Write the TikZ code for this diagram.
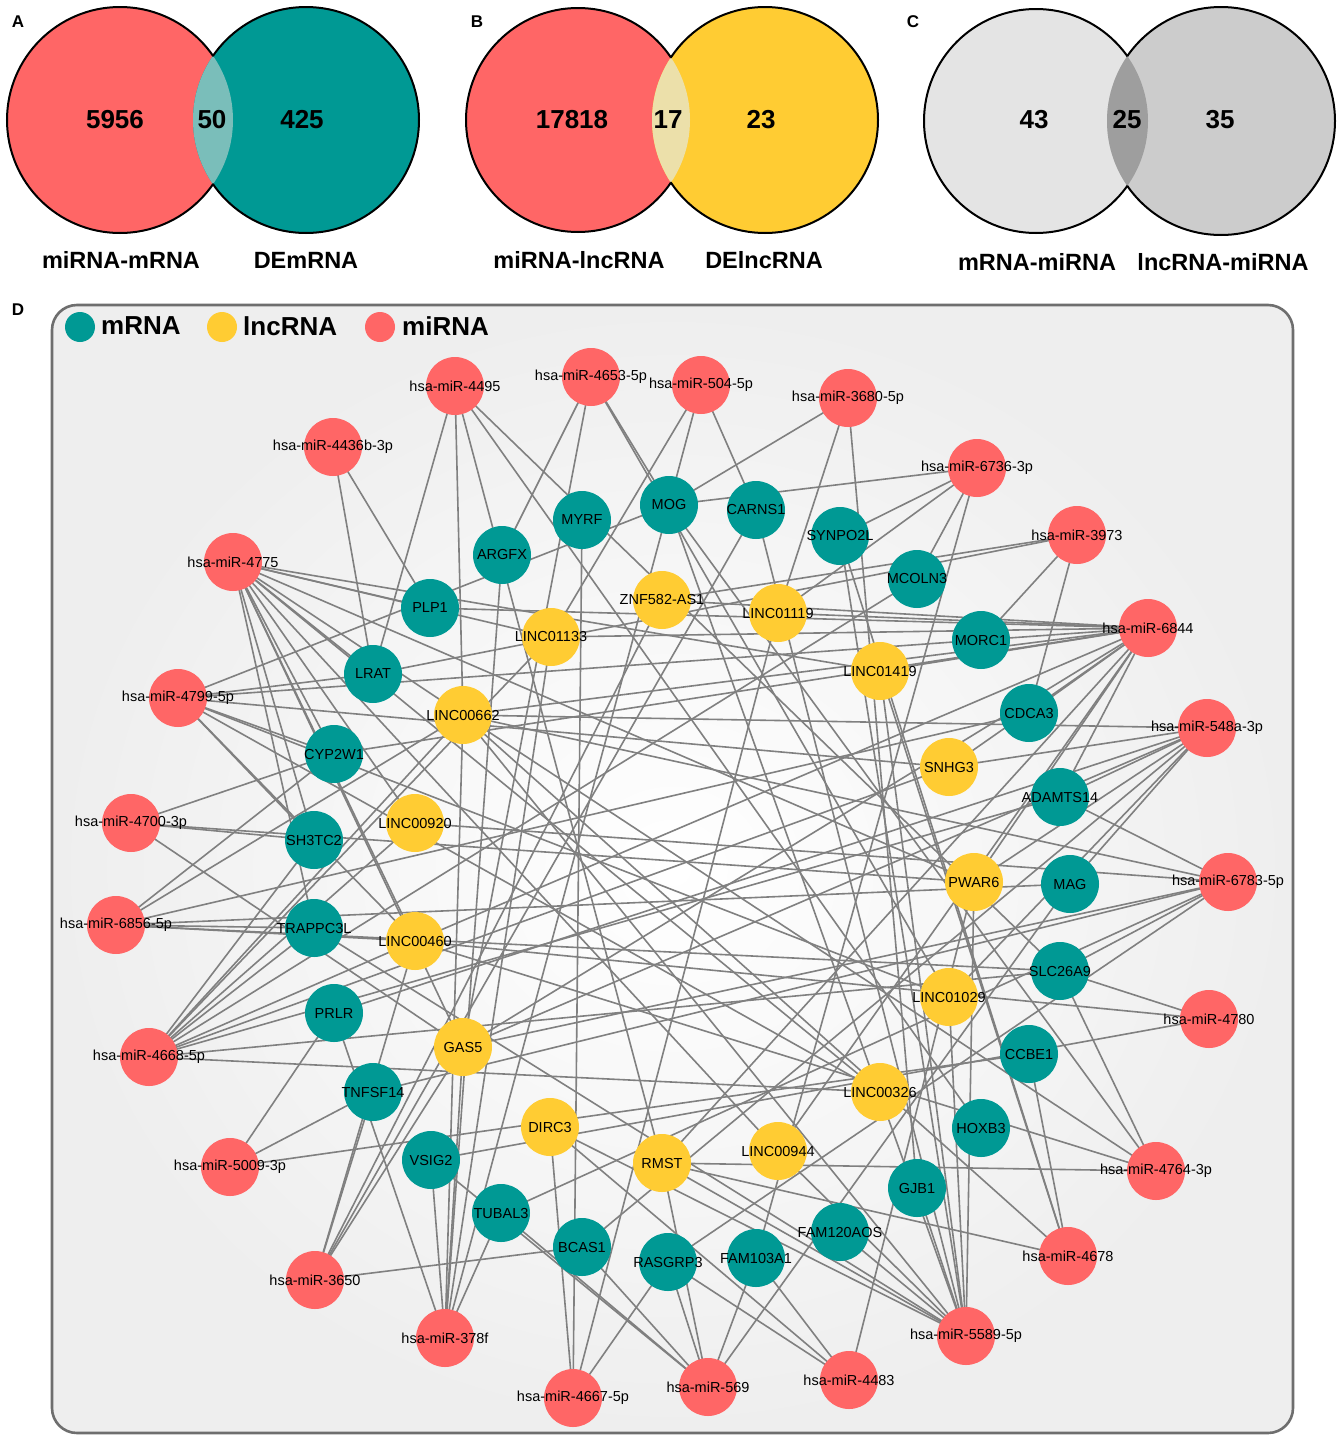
\documentclass[tikz,border=0pt]{standalone}
\usepackage{fontspec}
\setmainfont{Liberation Sans}
\definecolor{mired}{RGB}{255,102,102}
\definecolor{mrteal}{RGB}{0,153,148}
\definecolor{lncyel}{RGB}{255,204,51}
\definecolor{edgegray}{RGB}{128,128,128}
\definecolor{lensA}{RGB}{122,190,186}
\definecolor{lensB}{RGB}{236,224,170}
\definecolor{grayL}{RGB}{228,228,228}
\definecolor{grayR}{RGB}{204,204,204}
\definecolor{lensC}{RGB}{158,158,158}
\definecolor{framegray}{RGB}{110,110,110}
\definecolor{bgedge}{RGB}{238,238,238}
\newcommand\lblfont{\fontsize{14.5}{16}\selectfont}
\newcommand\numfont{\fontsize{26}{30}\selectfont\bfseries}
\newcommand\setlblfont{\fontsize{23.5}{28}\selectfont\bfseries}
\newcommand\panelfont{\fontsize{17}{20}\selectfont\bfseries}
\newcommand\legfont{\fontsize{26}{30}\selectfont\bfseries}
\newcommand\rna[4]{\node[#1] (#2) at (#3) {}; \node[lbl] (#2t) at (#2) {#4};}
\pgfdeclarelayer{back}
\pgfdeclarelayer{bg}
\pgfsetlayers{back,bg,main}
\begin{document}
\begin{tikzpicture}[x=1pt,y=-1pt,
  mi/.style={circle,fill=mired,draw=none,minimum size=58pt,inner sep=0pt},
  mr/.style={circle,fill=mrteal,draw=none,minimum size=58pt,inner sep=0pt},
  lnc/.style={circle,fill=lncyel,draw=none,minimum size=58pt,inner sep=0pt},
  lbl/.style={font=\lblfont,inner sep=0pt,text=black},
  edge/.style={draw=edgegray,line width=1.6pt},
  vout/.style={draw=black,line width=2pt},
  numlbl/.style={font=\numfont,inner sep=0pt},
  setlbl/.style={font=\setlblfont,inner sep=0pt},
  panel/.style={font=\panelfont,inner sep=0pt},
  leg/.style={font=\legfont,inner sep=0pt,anchor=west}]
\useasboundingbox (0,0) rectangle (1341,1435);
\begin{pgfonlayer}{back}
\fill[white] (0,0) rectangle (1341,1435);
\shade[rounded corners=25pt,inner color=white,outer color=bgedge] (52,305) rectangle (1293,1433);
\draw[rounded corners=25pt,line width=2.6pt,draw=framegray] (52,305) rectangle (1293,1433);
\end{pgfonlayer}

% ---------- Venn A ----------
\fill[mired] (120,120) circle[radius=113pt];
\fill[mrteal] (306,120) circle[radius=113pt];
\begin{scope}\clip (120,120) circle[radius=113pt]; \fill[lensA] (306,120) circle[radius=113pt];\end{scope}
\begin{scope}[even odd rule]\clip (0,0) rectangle (1341,300) (306,120) circle[radius=113pt]; \draw[vout] (120,120) circle[radius=113pt];\end{scope}
\begin{scope}[even odd rule]\clip (0,0) rectangle (1341,300) (120,120) circle[radius=113pt]; \draw[vout] (306,120) circle[radius=113pt];\end{scope}
\node[panel] (pa) at (18,22) {A};
\node[numlbl] (na1) at (115,120) {5956};
\node[numlbl] (na2) at (212,120) {50};
\node[numlbl] (na3) at (302,120) {425};
\node[setlbl] (sa1) at (121,260) {miRNA-mRNA};
\node[setlbl] (sa2) at (306,260) {DEmRNA};

% ---------- Venn B ----------
\fill[mired] (578,120) circle[radius=112pt];
\fill[lncyel] (765,120) circle[radius=113pt];
\begin{scope}\clip (578,120) circle[radius=112pt]; \fill[lensB] (765,120) circle[radius=113pt];\end{scope}
\begin{scope}[even odd rule]\clip (0,0) rectangle (1341,300) (765,120) circle[radius=113pt]; \draw[vout] (578,120) circle[radius=112pt];\end{scope}
\begin{scope}[even odd rule]\clip (0,0) rectangle (1341,300) (578,120) circle[radius=112pt]; \draw[vout] (765,120) circle[radius=113pt];\end{scope}
\node[panel] (pb) at (477,22) {B};
\node[numlbl] (nb1) at (572,120) {17818};
\node[numlbl] (nb2) at (668,120) {17};
\node[numlbl] (nb3) at (761,120) {23};
\node[setlbl] (sb1) at (579,260) {miRNA-lncRNA};
\node[setlbl] (sb2) at (764,260) {DElncRNA};

% ---------- Venn C ----------
\fill[grayL] (1036,121) circle[radius=112pt];
\fill[grayR] (1221,121) circle[radius=114pt];
\begin{scope}\clip (1036,121) circle[radius=112pt]; \fill[lensC] (1221,121) circle[radius=114pt];\end{scope}
\begin{scope}[even odd rule]\clip (0,0) rectangle (1341,300) (1221,121) circle[radius=114pt]; \draw[vout] (1036,121) circle[radius=112pt];\end{scope}
\begin{scope}[even odd rule]\clip (0,0) rectangle (1341,300) (1036,121) circle[radius=112pt]; \draw[vout] (1221,121) circle[radius=114pt];\end{scope}
\node[panel] (pc) at (913,22) {C};
\node[numlbl] (nc1) at (1034,120) {43};
\node[numlbl] (nc2) at (1127,120) {25};
\node[numlbl] (nc3) at (1220,120) {35};
\node[setlbl] (sc1) at (1037,262) {mRNA-miRNA};
\node[setlbl] (sc2) at (1223,262) {lncRNA-miRNA};

% ---------- Panel D ----------
\node[panel] (pd) at (18,310) {D};

% legend
\node[circle,fill=mrteal,minimum size=30pt,inner sep=0pt] (lg1) at (80,327) {};
\node[leg] (lg1t) at (101,326) {mRNA};
\node[circle,fill=lncyel,minimum size=30pt,inner sep=0pt] (lg2) at (222,327) {};
\node[leg] (lg2t) at (243,326) {lncRNA};
\node[circle,fill=mired,minimum size=30pt,inner sep=0pt] (lg3) at (380,327) {};
\node[leg] (lg3t) at (402,326) {miRNA};

% ---------- miRNA nodes ----------
\rna{mi}{m4495}{455,386}{hsa-miR-4495}
\rna{mi}{m4653}{591,377}{hsa-miR-4653-5p}
\rna{mi}{m504}{701,385}{hsa-miR-504-5p}
\rna{mi}{m3680}{848,398}{hsa-miR-3680-5p}
\rna{mi}{m6736}{977,468}{hsa-miR-6736-3p}
\rna{mi}{m3973}{1077,535}{hsa-miR-3973}
\rna{mi}{m6844}{1148,628}{hsa-miR-6844}
\rna{mi}{m548a}{1207,728}{hsa-miR-548a-3p}
\rna{mi}{m6783}{1228,882}{hsa-miR-6783-5p}
\rna{mi}{m4780}{1209,1019}{hsa-miR-4780}
\rna{mi}{m4764}{1156,1171}{hsa-miR-4764-3p}
\rna{mi}{m4678}{1068,1256}{hsa-miR-4678}
\rna{mi}{m5589}{966,1336}{hsa-miR-5589-5p}
\rna{mi}{m4483}{849,1380}{hsa-miR-4483}
\rna{mi}{m569}{708,1387}{hsa-miR-569}
\rna{mi}{m4667}{573,1398}{hsa-miR-4667-5p}
\rna{mi}{m378f}{445,1338}{hsa-miR-378f}
\rna{mi}{m3650}{315,1280}{hsa-miR-3650}
\rna{mi}{m5009}{230,1167}{hsa-miR-5009-3p}
\rna{mi}{m4668}{149,1057}{hsa-miR-4668-5p}
\rna{mi}{m6856}{116,925}{hsa-miR-6856-5p}
\rna{mi}{m4700}{131,823}{hsa-miR-4700-3p}
\rna{mi}{m4799}{178,698}{hsa-miR-4799-5p}
\rna{mi}{m4775}{233,562}{hsa-miR-4775}
\rna{mi}{m4436b}{333,447}{hsa-miR-4436b-3p}

% ---------- mRNA nodes ----------
\rna{mr}{mog}{669,505}{MOG}
\rna{mr}{myrf}{582,520}{MYRF}
\rna{mr}{carns1}{756,510}{CARNS1}
\rna{mr}{synpo2l}{840,536}{SYNPO2L}
\rna{mr}{argfx}{502,555}{ARGFX}
\rna{mr}{mcoln3}{917,579}{MCOLN3}
\rna{mr}{plp1}{430,608}{PLP1}
\rna{mr}{morc1}{981,640}{MORC1}
\rna{mr}{lrat}{373,674}{LRAT}
\rna{mr}{cdca3}{1029,713}{CDCA3}
\rna{mr}{cyp2w1}{334,754}{CYP2W1}
\rna{mr}{adamts14}{1060,797}{ADAMTS14}
\rna{mr}{sh3tc2}{314,840}{SH3TC2}
\rna{mr}{mag}{1070,884}{MAG}
\rna{mr}{trappc3l}{314,928}{TRAPPC3L}
\rna{mr}{slc26a9}{1060,971}{SLC26A9}
\rna{mr}{prlr}{334,1013}{PRLR}
\rna{mr}{ccbe1}{1029,1054}{CCBE1}
\rna{mr}{tnfsf14}{373,1092}{TNFSF14}
\rna{mr}{hoxb3}{981,1128}{HOXB3}
\rna{mr}{vsig2}{431,1160}{VSIG2}
\rna{mr}{gjb1}{917,1188}{GJB1}
\rna{mr}{tubal3}{501,1213}{TUBAL3}
\rna{mr}{fam120aos}{840,1232}{FAM120AOS}
\rna{mr}{bcas1}{582,1247}{BCAS1}
\rna{mr}{rasgrp3}{668,1262}{RASGRP3}
\rna{mr}{fam103a1}{756,1258}{FAM103A1}

% ---------- lncRNA nodes ----------
\rna{lnc}{znf}{662,600}{ZNF582-AS1}
\rna{lnc}{l1119}{778,613}{LINC01119}
\rna{lnc}{l1133}{551,637}{LINC01133}
\rna{lnc}{l1419}{880,671}{LINC01419}
\rna{lnc}{l662}{463,715}{LINC00662}
\rna{lnc}{snhg3}{949,767}{SNHG3}
\rna{lnc}{l920}{415,823}{LINC00920}
\rna{lnc}{pwar6}{974,882}{PWAR6}
\rna{lnc}{l460}{415,941}{LINC00460}
\rna{lnc}{l1029}{949,997}{LINC01029}
\rna{lnc}{gas5}{463,1047}{GAS5}
\rna{lnc}{l326}{880,1092}{LINC00326}
\rna{lnc}{dirc3}{550,1127}{DIRC3}
\rna{lnc}{l944}{778,1151}{LINC00944}
\rna{lnc}{rmst}{662,1163}{RMST}

% ---------- edges ----------
\begin{pgfonlayer}{bg}
\foreach \s/\ts in {m4436b/{plp1,lrat},
 m4495/{lrat,l662,hoxb3,slc26a9,rmst},
 m4653/{argfx,gas5,mog,l1029},
 m504/{mog,carns1,l1133},
 m3680/{mog,l1119,gjb1},
 m6736/{mog,synpo2l,l1119,mcoln3,fam103a1},
 m3973/{znf,morc1,cdca3,lrat},
 m6844/{znf,l1119,plp1,l1133,l662,l1419,l460,snhg3,cdca3,pwar6,morc1,adamts14,cyp2w1,rmst,l944,gas5},
 m548a/{l662,snhg3,adamts14,pwar6,mag,l1029,prlr,bcas1,gas5},
 m6783/{adamts14,l662,slc26a9,tubal3,tnfsf14,rasgrp3,gas5,l920},
 m4780/{slc26a9,l460,vsig2},
 m4764/{slc26a9,l662,rmst,l460,mog},
 m4678/{synpo2l,rmst,ccbe1,l1419,l662},
 m5589/{fam120aos,l944,rmst,gjb1,l1029,l1419,synpo2l,carns1,trappc3l,dirc3,pwar6,mog,l662},
 m4483/{fam103a1,rasgrp3,pwar6,dirc3},
 m569/{rasgrp3,fam103a1,bcas1,tubal3,rmst,vsig2,mag},
 m4667/{dirc3,rasgrp3,myrf,l1119},
 m378f/{vsig2,gas5,l1133,l662,tubal3,argfx,mog,prlr},
 m3650/{tnfsf14,l460,gas5,bcas1,carns1,znf},
 m5009/{tnfsf14,prlr,ccbe1},
 m4668/{trappc3l,l460,l920,l662,l1133,sh3tc2,l326,mcoln3,adamts14,snhg3,slc26a9},
 m6856/{l662,cyp2w1,trappc3l,l460,mag,slc26a9,cdca3},
 m4700/{cyp2w1,sh3tc2,gas5,pwar6},
 m4799/{lrat,cyp2w1,sh3tc2,l460,mog,morc1,l1029,l326,snhg3},
 m4775/{plp1,lrat,cyp2w1,sh3tc2,trappc3l,l920,l460,gas5,l662,l1133,l1419,pwar6,l944,l326}}{\foreach \t in \ts {\draw[edge] (\s.center) -- (\t.center);}}
\end{pgfonlayer}
\end{tikzpicture}
\end{document}
